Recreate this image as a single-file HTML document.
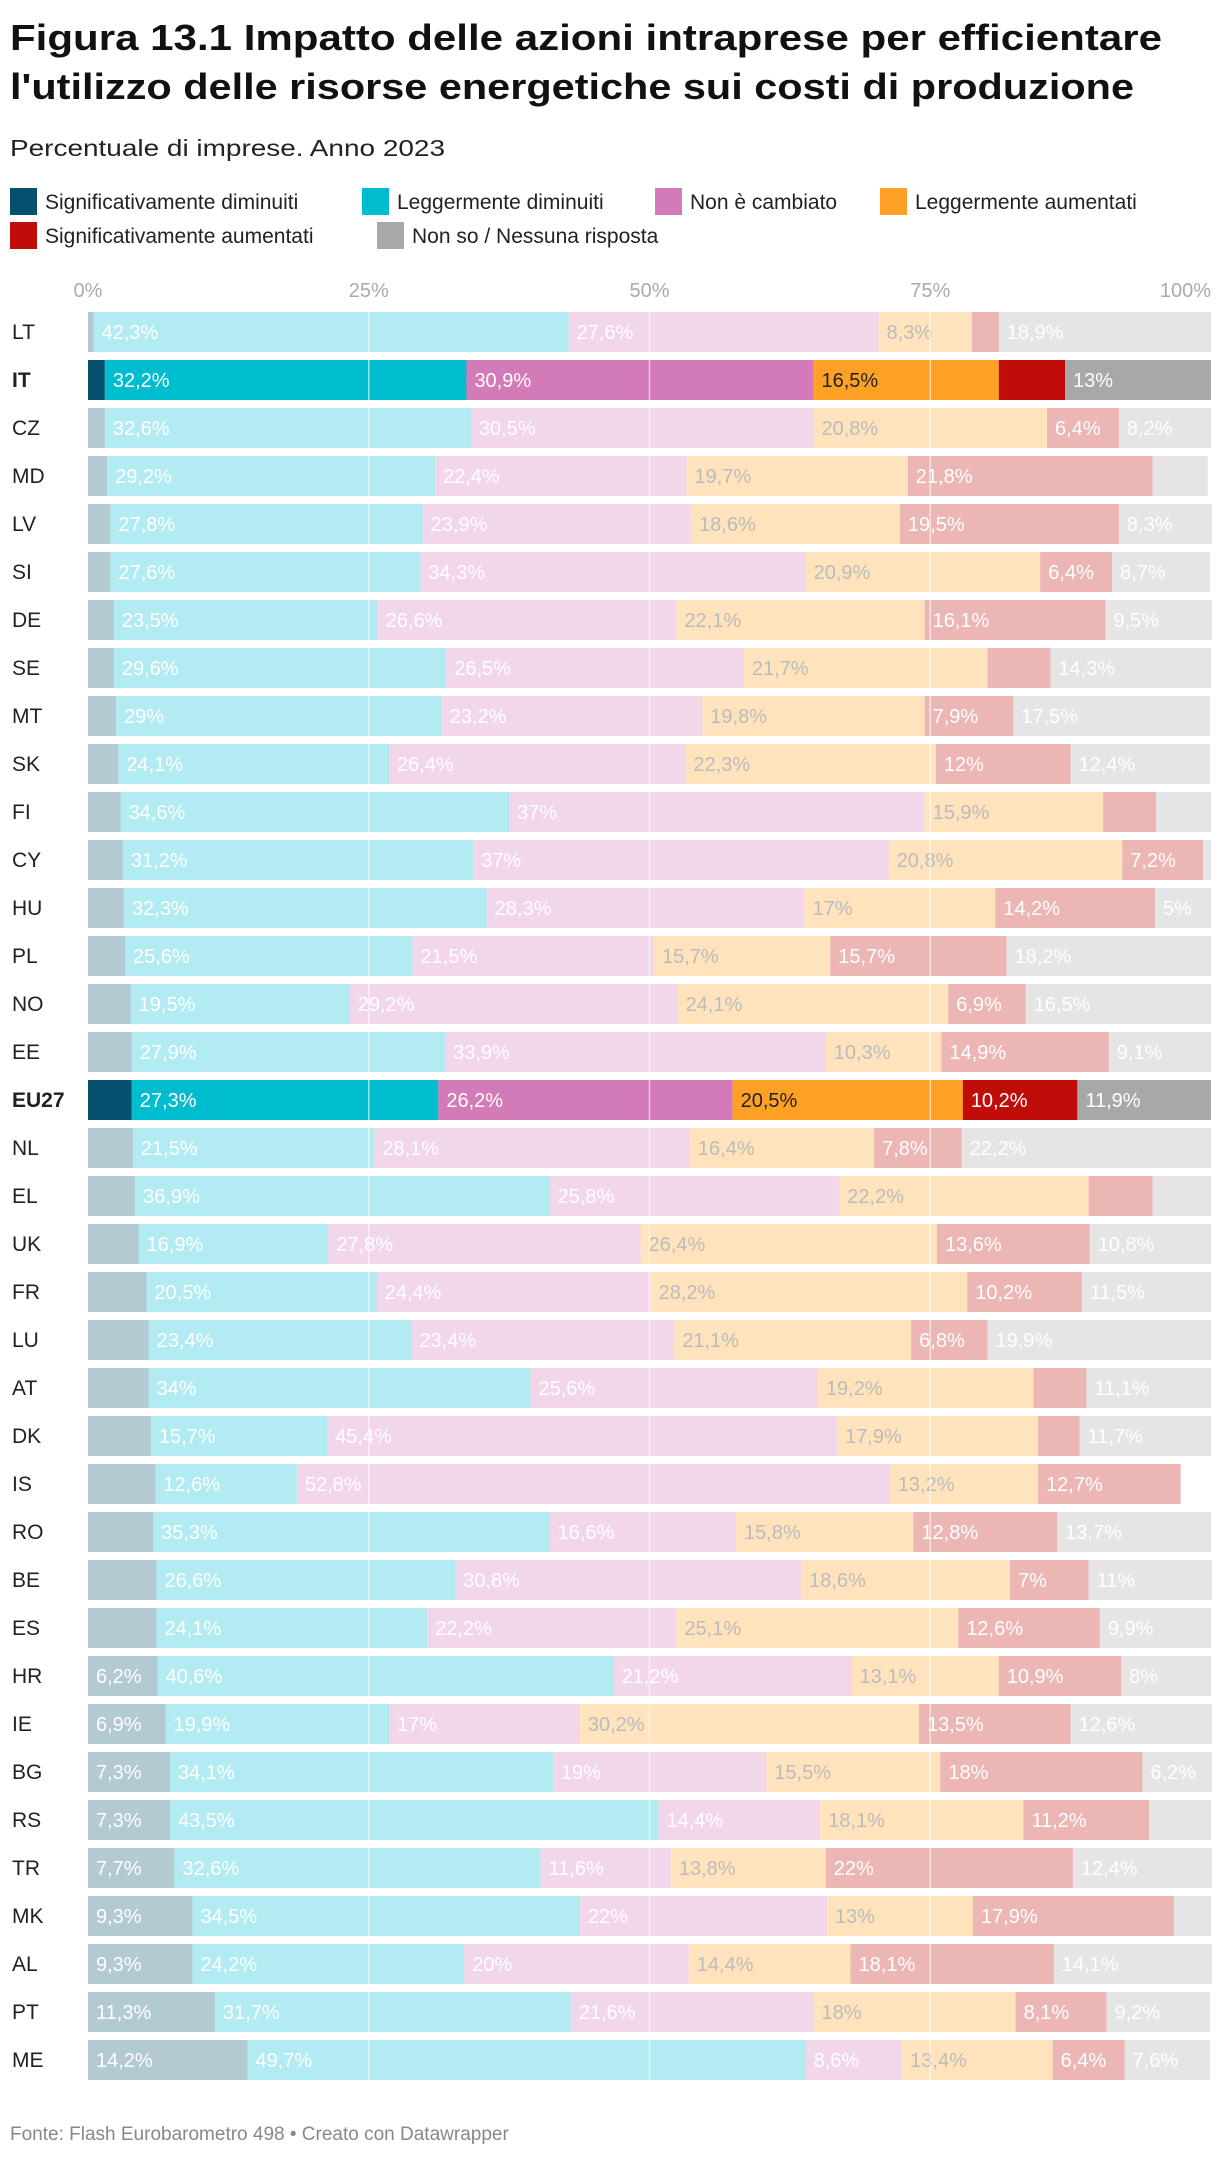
<!DOCTYPE html>
<html><head><meta charset="utf-8">
<style>
html,body{margin:0;padding:0;background:#fff;}
svg{display:block;font-family:"Liberation Sans",sans-serif;}
</style></head>
<body>
<svg id="chart" width="1220" height="2158" viewBox="0 0 1220 2158">
<text x="10" y="50" font-size="36" font-weight="bold" fill="#111" textLength="1152" lengthAdjust="spacingAndGlyphs">Figura 13.1 Impatto delle azioni intraprese per efficientare</text>
<text x="10" y="99" font-size="36" font-weight="bold" fill="#111" textLength="1124" lengthAdjust="spacingAndGlyphs">l'utilizzo delle risorse energetiche sui costi di produzione</text>
<text x="10" y="156" font-size="23" fill="#222" textLength="435" lengthAdjust="spacingAndGlyphs">Percentuale di imprese. Anno 2023</text>
<g id="legend"></g>
<g id="axis"></g>
<g id="rows"></g>
<g id="grid"></g>
<text x="10" y="2140" font-size="19" fill="#888">Fonte: Flash Eurobarometro 498 • Creato con Datawrapper</text>
</svg>
<script>
const countries = ["LT","IT","CZ","MD","LV","SI","DE","SE","MT","SK","FI","CY","HU","PL","NO","EE","EU27","NL","EL","UK","FR","LU","AT","DK","IS","RO","BE","ES","HR","IE","BG","RS","TR","MK","AL","PT","ME"];
const sigDim = [0.5,1.5,1.5,1.7,2.0,2.0,2.3,2.3,2.5,2.7,2.9,3.1,3.2,3.3,3.8,3.9,3.9,4.0,4.2,4.5,5.2,5.4,5.4,5.6,6.0,5.8,6.1,6.1,6.2,6.9,7.3,7.3,7.7,9.3,9.3,11.3,14.2];
const legDim = [42.3,32.2,32.6,29.2,27.8,27.6,23.5,29.6,29,24.1,34.6,31.2,32.3,25.6,19.5,27.9,27.3,21.5,36.9,16.9,20.5,23.4,34,15.7,12.6,35.3,26.6,24.1,40.6,19.9,34.1,43.5,32.6,34.5,24.2,31.7,49.7];
const nonCamb = [27.6,30.9,30.5,22.4,23.9,34.3,26.6,26.5,23.2,26.4,37,37,28.3,21.5,29.2,33.9,26.2,28.1,25.8,27.8,24.4,23.4,25.6,45.4,52.8,16.6,30.8,22.2,21.2,17,19,14.4,11.6,22,20,21.6,8.6];
const legAum = [8.3,16.5,20.8,19.7,18.6,20.9,22.1,21.7,19.8,22.3,15.9,20.8,17,15.7,24.1,10.3,20.5,16.4,22.2,26.4,28.2,21.1,19.2,17.9,13.2,15.8,18.6,25.1,13.1,30.2,15.5,18.1,13.8,13,14.4,18,13.4];
const sigAum = [2.4,5.9,6.4,21.8,19.5,6.4,16.1,5.6,7.9,12,4.7,7.2,14.2,15.7,6.9,14.9,10.2,7.8,5.7,13.6,10.2,6.8,4.7,3.7,12.7,12.8,7,12.6,10.9,13.5,18,11.2,22,17.9,18.1,8.1,6.4];
const nonSo = [18.9,13,8.2,4.9,8.3,8.7,9.5,14.3,17.5,12.4,4.9,0.7,5,18.2,16.5,9.1,11.9,22.2,5.2,10.8,11.5,19.9,11.1,11.7,0,13.7,11,9.9,8,12.6,6.2,5.5,12.4,3.3,14.1,9.2,7.6];
const seriesNames = ["Significativamente diminuiti","Leggermente diminuiti","Non è cambiato","Leggermente aumentati","Significativamente aumentati","Non so / Nessuna risposta"];
const tickValues = [0,25,50,75,100];
const highlighted = ["IT","EU27"];

const NS="http://www.w3.org/2000/svg";
const colors=["#05506e","#00bccf","#d37ab8","#ffa125","#c10d0a","#a8a8a8"];
const X0=88,X1=1211,TOP=312,PITCH=48,BH=40;
const xs=v=>X0+(X1-X0)*v/100;
function mk(tag,attrs,parent){const e=document.createElementNS(NS,tag);for(const k in attrs)e.setAttribute(k,attrs[k]);parent.appendChild(e);return e;}
const series=[sigDim,legDim,nonCamb,legAum,sigAum,nonSo];

const lg=document.getElementById('legend');
const legPos=[[10,188],[362,188],[655,188],[880,188],[10,222],[377,222]];
seriesNames.forEach((n,i)=>{
  const g=mk('g',{},lg);
  
  
  mk('rect',{x:legPos[i][0],y:legPos[i][1],width:27,height:27,fill:colors[i]},g);
  const t=mk('text',{x:legPos[i][0]+35,y:legPos[i][1]+21,'font-size':21,fill:'#222'},g);
  t.textContent=n;
});

const ax=document.getElementById('axis');
tickValues.forEach((v,i)=>{
  const last=i===tickValues.length-1;
  const t=mk('text',{x:last?X1:xs(v),y:297,'font-size':20,fill:'#aaa','text-anchor':last?'end':'middle'},ax);
  
  
  t.textContent=v+'%';
});

const rows=document.getElementById('rows');
countries.forEach((c,r)=>{
  const y=TOP+r*PITCH;
  const hl=highlighted.includes(c);
  const g=mk('g',{},rows);
  
  
  const lab=mk('text',{x:12,y:y+BH/2+7,'font-size':21,fill:'#222','font-weight':hl?'bold':'normal'},g);
  
  
  lab.textContent=c;
  let acc=0;
  series.forEach((s,i)=>{
    const v=s[r];
    const x=xs(acc),w=xs(acc+v)-xs(acc);
    acc+=v;
    if(v<=0)return;
    const rc=mk('rect',{x:x,y:y,width:w,height:BH,fill:colors[i],opacity:hl?1:0.3},g);
    
    
    const thr=i===0?6.2:6;
    const show=v>=thr||(c==="HU"&&i===5);
    if(show){
      let fill='#fff';
      if(i===3) fill=hl?'#222':'#bbb';
      const t=mk('text',{x:x+8,y:y+BH/2+7,'font-size':20,fill:fill},g);
      
      
      t.textContent=String(v).replace('.',',')+'%';
    }
  });
});

const gr=document.getElementById('grid');
[25,50,75].forEach(v=>{
  const l=mk('line',{x1:xs(v),x2:xs(v),y1:TOP,y2:TOP+countries.length*PITCH-8,stroke:'#fff','stroke-opacity':0.6,'stroke-width':1.5},gr);
  
  
});
</script>
</body></html>
